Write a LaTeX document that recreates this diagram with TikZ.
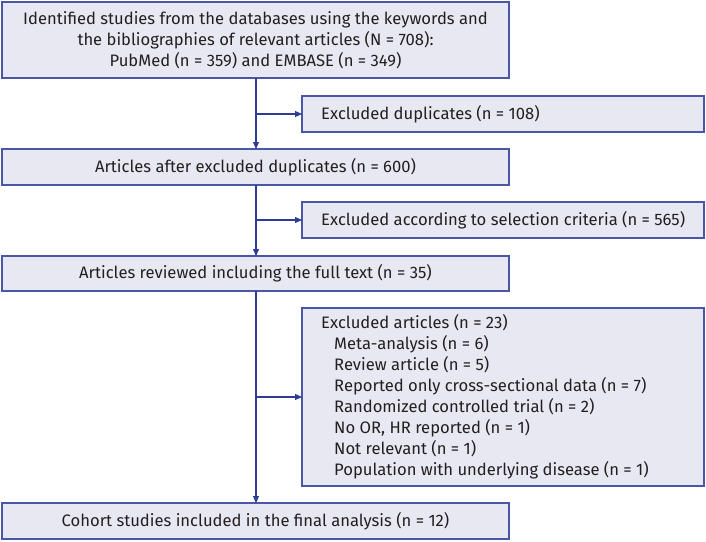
\documentclass[tikz,border=0pt]{standalone}
\usepackage{fontspec}
\setmainfont{Fira Sans}
\usetikzlibrary{arrows.meta}
\definecolor{boxfill}{HTML}{E8E8F3}
\definecolor{boxline}{HTML}{4A57A6}
\definecolor{arrowc}{HTML}{2E3C95}
\definecolor{txt}{HTML}{231F20}
\tikzset{
  box/.style={draw=boxline, fill=boxfill, line width=1.2pt, inner sep=0pt},
  conn/.style={draw=arrowc, line width=1.1pt},
  arr/.style={conn, -{Triangle[length=7pt,width=6pt]}},
  lbl/.style={font=\fontsize{16.6}{21}\selectfont, text=txt, inner sep=0pt}
}
\begin{document}
\begin{tikzpicture}[x=1pt,y=-1pt]
\useasboundingbox (0,0) rectangle (706,541);
% main boxes
\draw[box] (2,2) rectangle (509,78);
\node[lbl, align=center] (b1) at (255.5,40) {Identified studies from the databases using the keywords and\\the bibliographies of relevant articles (N = 708):\\PubMed (n = 359) and EMBASE (n = 349)};
\draw[box] (2,149) rectangle (509,185);
\node[lbl] (b3) at (255.5,167) {Articles after excluded duplicates (n = 600)};
\draw[box] (2,256) rectangle (509,291);
\node[lbl] (b5) at (255.5,273.5) {Articles reviewed including the full text (n = 35)};
\draw[box] (2,503) rectangle (509,539);
\node[lbl] (b7) at (255.5,521) {Cohort studies included in the final analysis (n = 12)};
% side boxes
\draw[box] (302,96) rectangle (704,132);
\node[lbl, anchor=west] (b2) at (321,114) {Excluded duplicates (n = 108)};
\draw[box] (302,202) rectangle (704,238);
\node[lbl, anchor=west] (b4) at (321,220) {Excluded according to selection criteria (n = 565)};
\draw[box] (302,308) rectangle (704,486);
\node[lbl, anchor=west, align=left] (b6) at (321,397) {Excluded articles (n = 23)\\
\hspace*{13pt}Meta-analysis (n = 6)\\
\hspace*{13pt}Review article (n = 5)\\
\hspace*{13pt}Reported only cross-sectional data (n = 7)\\
\hspace*{13pt}Randomized controlled trial (n = 2)\\
\hspace*{13pt}No OR, HR reported (n = 1)\\
\hspace*{13pt}Not relevant (n = 1)\\
\hspace*{13pt}Population with underlying disease (n = 1)};
% named coordinates
\coordinate (t1) at (256,78);
\coordinate (h1) at (256,149);
\coordinate (j1) at (256,114);
\coordinate (e1) at (302,114);
\coordinate (t3) at (256,185);
\coordinate (h3) at (256,256);
\coordinate (j2) at (256,220);
\coordinate (e2) at (302,220);
\coordinate (t5) at (256,291);
\coordinate (h5) at (256,503);
\coordinate (j3) at (256,397);
\coordinate (e3) at (302,397);
\draw[arr] (t1) -- (h1);
\draw[arr] (j1) -- (e1);
\draw[arr] (t3) -- (h3);
\draw[arr] (j2) -- (e2);
\draw[arr] (t5) -- (h5);
\draw[arr] (j3) -- (e3);
\end{tikzpicture}
\end{document}
